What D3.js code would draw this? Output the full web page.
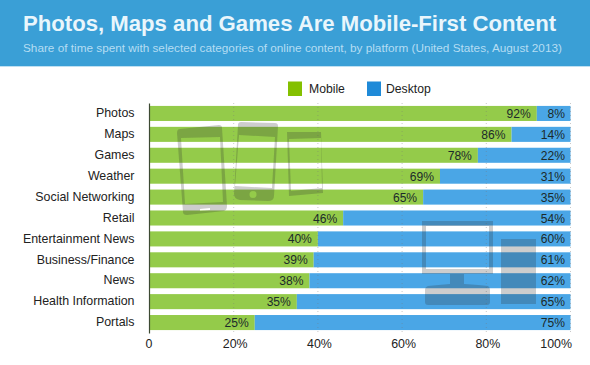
<!DOCTYPE html>
<html>
<head>
<meta charset="utf-8">
<script src="https://cdn.jsdelivr.net/npm/d3@7"></script>
<style>
  html, body { margin: 0; padding: 0; background: #fff; }
  svg { display: block; font-family: "Liberation Sans", Arial, sans-serif; }
</style>
</head>
<body>
<div id="chart"></div>
<script>
// Data
const categories = ['Photos', 'Maps', 'Games', 'Weather', 'Social Networking', 'Retail',
    'Entertainment News', 'Business/Finance', 'News', 'Health Information', 'Portals'];
const mobile = [92, 86, 78, 69, 65, 46, 40, 39, 38, 35, 25];
const desktop = [8, 14, 22, 31, 35, 54, 60, 61, 62, 65, 75];
const xTicks = [0, 20, 40, 60, 80, 100];
const seriesNames = ['Mobile', 'Desktop'];
const seriesColors = ['#94cb4a', '#4aa6e6'];
const legendSwatches = ['#84c000', '#1f8ad8'];

const width = 590, height = 365;
const svg = d3.select('#chart').append('svg')
    .attr('width', width)
    .attr('height', height);

// Header banner
svg.append('rect').attr('width', width).attr('height', 66).attr('fill', '#3a9fd6');
svg.append('rect').attr('y', 66).attr('width', width).attr('height', 1).attr('fill', '#bfe0f2');
svg.append('text').attr('x', 23).attr('y', 30.5)
    .attr('font-size', 22.15).attr('font-weight', 'bold').attr('fill', '#e9f6fc')
    .text('Photos, Maps and Games Are Mobile-First Content');
svg.append('text').attr('x', 23).attr('y', 52)
    .attr('font-size', 11.77).attr('fill', '#b5ddf3')
    .text('Share of time spent with selected categories of online content, by platform (United States, August 2013)');

// Scales
const x = d3.scaleLinear().domain([0, 100]).range([149.5, 570.5]);
const y = d3.scaleBand().domain(categories).range([103, 333]).paddingInner(0.28).paddingOuter(0.14);

// Legend
const legendX = [288, 367];
const legendTextX = [309, 386];
seriesNames.forEach((name, i) => {
    svg.append('rect').attr('x', legendX[i]).attr('y', 81.5).attr('width', 14).attr('height', 14.5)
        .attr('fill', legendSwatches[i]);
    svg.append('text').attr('x', legendTextX[i]).attr('y', 93)
        .attr('font-size', 12.2).attr('fill', '#222').text(name);
});

// Stacked bars
const rows = categories.map((c, i) => ({ category: c, Mobile: mobile[i], Desktop: desktop[i] }));
const stacked = d3.stack().keys(seriesNames)(rows);

svg.append('g').selectAll('g')
    .data(stacked)
    .join('g')
    .attr('fill', (d, i) => seriesColors[i])
    .selectAll('rect')
    .data(d => d)
    .join('rect')
    .attr('x', d => x(d[0]))
    .attr('y', d => y(d.data.category))
    .attr('width', d => x(d[1]) - x(d[0]))
    .attr('height', y.bandwidth());

// Dotted gridlines
svg.append('g').selectAll('line')
    .data(xTicks.slice(1))
    .join('line')
    .attr('x1', d => x(d)).attr('x2', d => x(d))
    .attr('y1', 103).attr('y2', 334)
    .attr('stroke', '#777').attr('stroke-opacity', 0.4)
    .attr('stroke-dasharray', '1,3');

// Device icons, translucent over the bars
const icons = svg.append('g').attr('fill', '#303030').attr('fill-opacity', 0.24).attr('fill-rule', 'evenodd');
const iconPaths = [
    // phone 1
    'M180,129 L219,125 Q222,125 222,128 L227,206 Q227,210 224,211 L187,215 Q183,215 183,212 L177,133 Q177,129 180,129 Z M181,138 L185,204 L223,202 L220,137 Z M200,209 L210,208 L210,210 L200,211 Z',
    // phone 2
    'M241,122 L275,123 Q278,123 278,126 L274,196 Q274,201 268,201 L240,200 Q234,199 234,194 L238,125 Q238,122 241,122 Z M239,135 L235,186 L272,188 L275,137 Z M253,191 A3.5,3.5 0 1 0 253,198 A3.5,3.5 0 1 0 253,191 Z',
    // phone 3
    'M287,132 L321,132 L323,193 L289,196 Z M289,139 L291,191 L322,188 L321,138 Z',
    // monitor
    'M422,221 H493 V274 H464 V284 Q480,285 488,286 Q490,287 490,290 V302 Q490,305 487,305 H428 Q425,305 425,302 V290 Q425,287 428,286 Q438,285 450,284 V274 H422 Z M426,226 V269 H489 V226 Z',
    // tower
    'M501,239 H536 V304 H501 Z'
];
icons.selectAll('path').data(iconPaths).join('path').attr('d', d => d);

// Value labels
const labels = svg.append('g').attr('font-size', 12.1).attr('fill', '#1c2a2a').attr('text-anchor', 'end');
rows.forEach(r => {
    const yMid = y(r.category) + y.bandwidth() / 2 + 4.5;
    labels.append('text').attr('x', x(r.Mobile) - 6).attr('y', yMid).text(r.Mobile + '%');
    labels.append('text').attr('x', x(100) - 5.5).attr('y', yMid).text(r.Desktop + '%');
});

// Axes
const yAxis = svg.append('g')
    .attr('transform', `translate(${x(0) - 0.5},0)`)
    .call(d3.axisLeft(y).tickSize(0).tickPadding(14.5));
yAxis.select('.domain').attr('stroke', '#3d4a33').attr('stroke-width', 1.2);
yAxis.selectAll('text').attr('font-size', 12.4).attr('fill', '#222')
    .attr('font-family', '"Liberation Sans", Arial, sans-serif')
    .attr('dy', '0.3em');

const xAxis = svg.append('g')
    .attr('transform', 'translate(1,333)')
    .call(d3.axisBottom(x).tickValues(xTicks).tickSize(0).tickPadding(6.5)
        .tickFormat(d => d === 0 ? '0' : d + '%'));
xAxis.select('.domain').remove();
xAxis.selectAll('text').attr('font-size', 12.4).attr('fill', '#222')
    .attr('font-family', '"Liberation Sans", Arial, sans-serif')
    .attr('text-anchor', d => d === 100 ? 'end' : 'middle')
    .attr('dx', d => d === 0 ? -2 : 0);
</script>
</body>
</html>
